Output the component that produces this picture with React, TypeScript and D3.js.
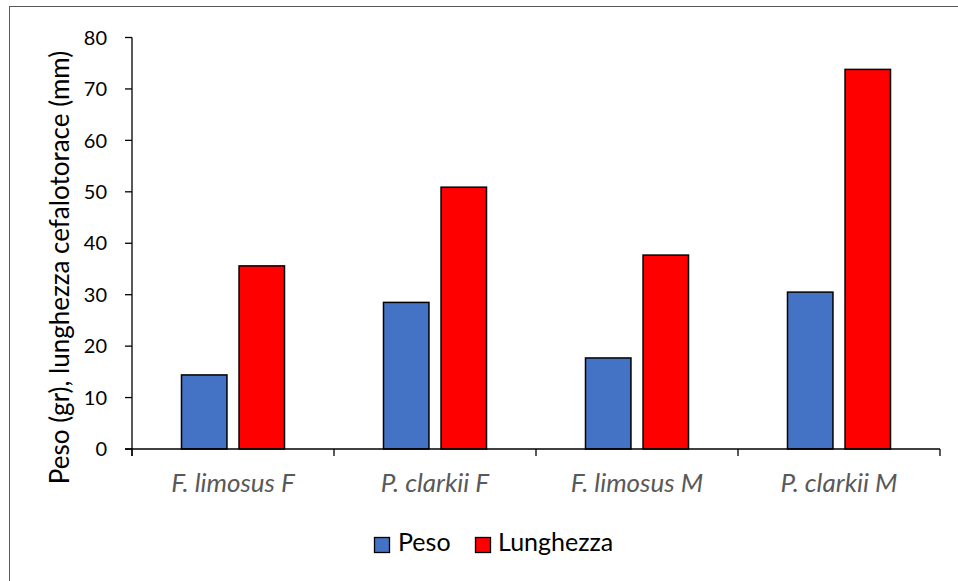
import React, { useEffect, useRef } from "react";
import * as d3 from "d3";

const categories = ["F. limosus F", "P. clarkii F", "F. limosus M", "P. clarkii M"];
const seriesNames = ["Peso", "Lunghezza"];
const peso = [14.4, 28.5, 17.7, 30.5];
const lunghezza = [35.6, 50.9, 37.7, 73.8];
const seriesColors = ["#4472C4", "#FF0000"];
const yTicks = [0, 10, 20, 30, 40, 50, 60, 70, 80];
const yTitle = "Peso (gr), lunghezza cefalotorace (mm)";

const W = 958;
const H = 581;
const FONT = "Lato, 'Open Sans', sans-serif";

export default function App() {
  const ref = useRef<SVGSVGElement>(null);

  useEffect(() => {
    const svg = d3.select(ref.current);
    svg.selectAll("*").remove();

    const left = 132, right = 940, top = 37.5, bottom = 449;

    // outer chart frame
    svg.append("rect")
      .attr("x", 9.5).attr("y", 6.5)
      .attr("width", 960).attr("height", 590)
      .attr("fill", "#fff").attr("stroke", "#595959").attr("stroke-width", 1);

    const y = d3.scaleLinear().domain([0, 80]).range([bottom, top]);
    const x0 = d3.scaleBand<string>().domain(categories).range([left, right]).padding(0);
    const x1 = d3.scaleBand<string>().domain(seriesNames)
      .range([0, x0.bandwidth()]).paddingInner(0.21).paddingOuter(0.86);

    const rows = categories.map((c, i) => ({ c, vals: [peso[i], lunghezza[i]] }));

    const g = svg.append("g");
    rows.forEach((r) => {
      r.vals.forEach((v, j) => {
        g.append("rect")
          .attr("x", (x0(r.c) as number) + (x1(seriesNames[j]) as number))
          .attr("y", y(v))
          .attr("width", x1.bandwidth())
          .attr("height", y(0) - y(v))
          .attr("fill", seriesColors[j])
          .attr("stroke", "#000")
          .attr("stroke-width", 1.5);
      });
    });

    // y axis
    const yAxis = svg.append("g");
    yAxis.append("line").attr("x1", left).attr("x2", left).attr("y1", top).attr("y2", bottom + 7)
      .attr("stroke", "#000").attr("stroke-width", 1.3);
    yTicks.forEach((t) => {
      yAxis.append("line").attr("x1", left - 7).attr("x2", left).attr("y1", y(t)).attr("y2", y(t))
        .attr("stroke", "#000").attr("stroke-width", 1.3);
      yAxis.append("text").attr("x", 107).attr("y", y(t)).attr("dy", "0.36em")
        .attr("text-anchor", "end").attr("font-family", FONT).attr("font-size", 20)
        .attr("fill", "#000").text(String(t));
    });

    // x axis
    const xAxis = svg.append("g");
    xAxis.append("line").attr("x1", left - 7).attr("x2", right).attr("y1", bottom).attr("y2", bottom)
      .attr("stroke", "#000").attr("stroke-width", 1.3);
    const edges = [...categories.map((c) => x0(c) as number), right];
    edges.forEach((e) => {
      xAxis.append("line").attr("x1", e).attr("x2", e).attr("y1", bottom).attr("y2", bottom + 7)
        .attr("stroke", "#000").attr("stroke-width", 1.3);
    });
    categories.forEach((c) => {
      xAxis.append("text").attr("x", (x0(c) as number) + x0.bandwidth() / 2).attr("y", 492)
        .attr("text-anchor", "middle").attr("font-family", FONT).attr("font-size", 26)
        .attr("font-style", "italic").attr("fill", "#595959").text(c);
    });

    // y title
    svg.append("text")
      .attr("transform", `translate(69,${(48 + 487) / 2}) rotate(-90)`)
      .attr("text-anchor", "middle").attr("font-family", FONT).attr("font-size", 26)
      .attr("fill", "#000").text(yTitle);

    // legend
    const legendItems = [
      { name: seriesNames[0], color: seriesColors[0], sx: 374.5, tx: 398 },
      { name: seriesNames[1], color: seriesColors[1], sx: 475.5, tx: 498 },
    ];
    legendItems.forEach((it) => {
      svg.append("rect").attr("x", it.sx).attr("y", 537.5).attr("width", 15).attr("height", 15)
        .attr("fill", it.color).attr("stroke", "#000").attr("stroke-width", 1.3);
      svg.append("text").attr("x", it.tx).attr("y", 551).attr("font-family", FONT)
        .attr("font-size", 25).attr("fill", "#000").text(it.name);
    });
  }, []);

  return (
    <svg
      ref={ref}
      width={W}
      height={H}
      style={{ display: "block", position: "absolute", left: 0, top: 0 }}
    />
  );
}
